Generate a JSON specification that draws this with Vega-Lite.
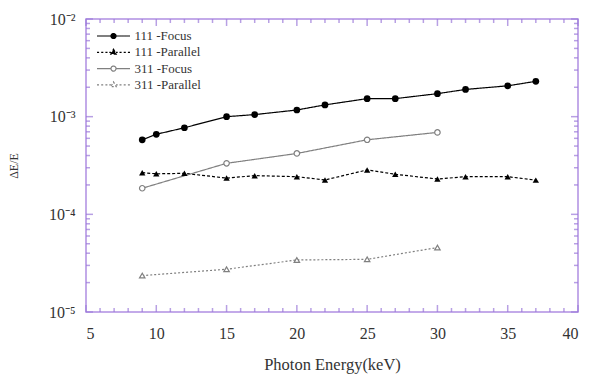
{
  "$schema": "https://vega.github.io/schema/vega-lite/v6.json",
  "width": 492,
  "height": 293,
  "autosize": {"type": "none"},
  "padding": {"left": 86, "top": 19, "right": 16, "bottom": 62},
  "background": "white",
  "datasets": {
    "series": [
      {"s": "111 -Focus", "x": 9, "y": 0.00058},
      {"s": "111 -Focus", "x": 10, "y": 0.00066},
      {"s": "111 -Focus", "x": 12, "y": 0.00077},
      {"s": "111 -Focus", "x": 15, "y": 0.00100},
      {"s": "111 -Focus", "x": 17, "y": 0.00105},
      {"s": "111 -Focus", "x": 20, "y": 0.00117},
      {"s": "111 -Focus", "x": 22, "y": 0.00132},
      {"s": "111 -Focus", "x": 25, "y": 0.00153},
      {"s": "111 -Focus", "x": 27, "y": 0.00153},
      {"s": "111 -Focus", "x": 30, "y": 0.00172},
      {"s": "111 -Focus", "x": 32, "y": 0.00190},
      {"s": "111 -Focus", "x": 35, "y": 0.00207},
      {"s": "111 -Focus", "x": 37, "y": 0.00230},
      {"s": "111 -Parallel", "x": 9, "y": 0.000267},
      {"s": "111 -Parallel", "x": 10, "y": 0.000260},
      {"s": "111 -Parallel", "x": 12, "y": 0.000263},
      {"s": "111 -Parallel", "x": 15, "y": 0.000235},
      {"s": "111 -Parallel", "x": 17, "y": 0.000249},
      {"s": "111 -Parallel", "x": 20, "y": 0.000243},
      {"s": "111 -Parallel", "x": 22, "y": 0.000225},
      {"s": "111 -Parallel", "x": 25, "y": 0.000285},
      {"s": "111 -Parallel", "x": 27, "y": 0.000257},
      {"s": "111 -Parallel", "x": 30, "y": 0.000230},
      {"s": "111 -Parallel", "x": 32, "y": 0.000243},
      {"s": "111 -Parallel", "x": 35, "y": 0.000243},
      {"s": "111 -Parallel", "x": 37, "y": 0.000224},
      {"s": "311 -Focus", "x": 9, "y": 0.000185},
      {"s": "311 -Focus", "x": 15, "y": 0.000333},
      {"s": "311 -Focus", "x": 20, "y": 0.000420},
      {"s": "311 -Focus", "x": 25, "y": 0.000580},
      {"s": "311 -Focus", "x": 30, "y": 0.000690},
      {"s": "311 -Parallel", "x": 9, "y": 0.0000236},
      {"s": "311 -Parallel", "x": 15, "y": 0.0000274},
      {"s": "311 -Parallel", "x": 20, "y": 0.0000341},
      {"s": "311 -Parallel", "x": 25, "y": 0.0000346},
      {"s": "311 -Parallel", "x": 30, "y": 0.0000457}
    ],
    "xticks": [
      {"v": 5, "k": "major"}, {"v": 6, "k": "minor"}, {"v": 7, "k": "minor"}, {"v": 8, "k": "minor"}, {"v": 9, "k": "minor"},
      {"v": 10, "k": "major"}, {"v": 11, "k": "minor"}, {"v": 12, "k": "minor"}, {"v": 13, "k": "minor"}, {"v": 14, "k": "minor"},
      {"v": 15, "k": "major"}, {"v": 16, "k": "minor"}, {"v": 17, "k": "minor"}, {"v": 18, "k": "minor"}, {"v": 19, "k": "minor"},
      {"v": 20, "k": "major"}, {"v": 21, "k": "minor"}, {"v": 22, "k": "minor"}, {"v": 23, "k": "minor"}, {"v": 24, "k": "minor"},
      {"v": 25, "k": "major"}, {"v": 26, "k": "minor"}, {"v": 27, "k": "minor"}, {"v": 28, "k": "minor"}, {"v": 29, "k": "minor"},
      {"v": 30, "k": "major"}, {"v": 31, "k": "minor"}, {"v": 32, "k": "minor"}, {"v": 33, "k": "minor"}, {"v": 34, "k": "minor"},
      {"v": 35, "k": "major"}, {"v": 36, "k": "minor"}, {"v": 37, "k": "minor"}, {"v": 38, "k": "minor"}, {"v": 39, "k": "minor"},
      {"v": 40, "k": "major"}
    ],
    "yticks": [
      {"v": 0.00001, "k": "major"}, {"v": 0.00002, "k": "minor"}, {"v": 0.00003, "k": "minor"}, {"v": 0.00004, "k": "minor"}, {"v": 0.00005, "k": "minor"},
      {"v": 0.00006, "k": "minor"}, {"v": 0.00007, "k": "minor"}, {"v": 0.00008, "k": "minor"}, {"v": 0.00009, "k": "minor"},
      {"v": 0.0001, "k": "major"}, {"v": 0.0002, "k": "minor"}, {"v": 0.0003, "k": "minor"}, {"v": 0.0004, "k": "minor"}, {"v": 0.0005, "k": "minor"},
      {"v": 0.0006, "k": "minor"}, {"v": 0.0007, "k": "minor"}, {"v": 0.0008, "k": "minor"}, {"v": 0.0009, "k": "minor"},
      {"v": 0.001, "k": "major"}, {"v": 0.002, "k": "minor"}, {"v": 0.003, "k": "minor"}, {"v": 0.004, "k": "minor"}, {"v": 0.005, "k": "minor"},
      {"v": 0.006, "k": "minor"}, {"v": 0.007, "k": "minor"}, {"v": 0.008, "k": "minor"}, {"v": 0.009, "k": "minor"},
      {"v": 0.01, "k": "major"}
    ]
  },
  "data": {"name": "series"},
  "resolve": {"axis": {"x": "independent", "y": "independent"}},
  "layer": [
    {
      "mark": {"type": "line", "strokeWidth": 1.2},
      "encoding": {
        "x": {"field": "x", "type": "quantitative", "scale": {"domain": [5, 40], "nice": false, "zero": false},
          "axis": {"orient": "bottom", "values": [5, 10, 15, 20, 25, 30, 35, 40], "ticks": false, "labelPadding": 13, "title": "Photon Energy(keV)", "titlePadding": 15}},
        "y": {"field": "y", "type": "quantitative", "scale": {"type": "log", "domain": [0.00001, 0.01], "nice": false},
          "axis": {"orient": "left", "values": [0.00001, 0.0001, 0.001, 0.01], "ticks": false, "labelPadding": 11, "title": "ΔE/E", "titlePadding": 28, "titleFontSize": 12,
            "labelExpr": "'10' + (datum.value > 0.005 ? '⁻²' : datum.value > 0.0005 ? '⁻³' : datum.value > 0.00005 ? '⁻⁴' : '⁻⁵')"}},
        "color": {"field": "s", "type": "nominal", "scale": {"domain": ["111 -Focus", "111 -Parallel", "311 -Focus", "311 -Parallel"], "range": ["#000000", "#000000", "#808080", "#808080"]},
          "legend": {"title": null, "orient": "none", "legendX": 20.5, "legendY": 10,
            "encode": {"symbols": {"update": {
              "opacity": {"value": 1},
              "shape": {"signal": "datum.value === '111 -Focus' || datum.value === '311 -Focus' ? 'M-2.75 0H-0.42M0.42 0H2.75M0.42 0A0.42 0.42 0 1 1 -0.42 0A0.42 0.42 0 1 1 0.42 0Z' : 'M-2.75 0H-2.4M-2.05 0H-1.7M-1.35 0H-1.0M-0.7 0H-0.42M0.42 0H0.7M1.0 0H1.35M1.7 0H2.05M2.4 0H2.75M0 -0.5L0.45 0.3L-0.45 0.3Z'"},
              "fill": {"signal": "indexof(datum.value, '311') === 0 ? '#ffffff' : '#000000'"},
              "stroke": {"signal": "indexof(datum.value, '311') === 0 ? '#808080' : '#000000'"},
              "strokeDash": {"value": []},
              "strokeWidth": {"value": 1.2}}}}}},
        "strokeDash": {"field": "s", "type": "nominal", "scale": {"domain": ["111 -Focus", "111 -Parallel", "311 -Focus", "311 -Parallel"], "range": [[1, 0], [3, 2], [1, 0], [2, 2]]}, "legend": null}
      }
    },
    {
      "transform": [{"filter": "datum.s === '111 -Focus'"}],
      "mark": {"type": "point", "shape": "circle", "size": 45, "filled": true, "color": "#000000", "opacity": 1},
      "encoding": {
        "x": {"field": "x", "type": "quantitative", "axis": null},
        "y": {"field": "y", "type": "quantitative", "axis": null}
      }
    },
    {
      "transform": [{"filter": "datum.s === '111 -Parallel'"}],
      "mark": {"type": "point", "shape": "triangle-up", "size": 40, "filled": true, "color": "#000000", "opacity": 1},
      "encoding": {
        "x": {"field": "x", "type": "quantitative", "axis": null},
        "y": {"field": "y", "type": "quantitative", "axis": null}
      }
    },
    {
      "transform": [{"filter": "datum.s === '311 -Focus'"}],
      "mark": {"type": "point", "shape": "circle", "size": 30, "filled": false, "fill": "#ffffff", "stroke": "#808080", "strokeWidth": 1.2, "opacity": 1},
      "encoding": {
        "x": {"field": "x", "type": "quantitative", "axis": null},
        "y": {"field": "y", "type": "quantitative", "axis": null}
      }
    },
    {
      "transform": [{"filter": "datum.s === '311 -Parallel'"}],
      "mark": {"type": "point", "shape": "triangle-up", "size": 30, "filled": false, "fill": "#ffffff", "stroke": "#808080", "strokeWidth": 1.2, "opacity": 1},
      "encoding": {
        "x": {"field": "x", "type": "quantitative", "axis": null},
        "y": {"field": "y", "type": "quantitative", "axis": null}
      }
    },
    {
      "data": {"name": "xticks"},
      "transform": [{"filter": "datum.k === 'major'"}],
      "mark": {"type": "tick", "orient": "vertical", "color": "#9a78d8", "thickness": 1.5, "size": 7, "yOffset": -3.5},
      "encoding": {
        "x": {"field": "v", "type": "quantitative", "axis": null},
        "y": {"datum": 0.00001, "type": "quantitative", "axis": null}
      }
    },
    {
      "data": {"name": "xticks"},
      "transform": [{"filter": "datum.k === 'minor'"}],
      "mark": {"type": "tick", "orient": "vertical", "color": "#9a78d8", "thickness": 1.5, "size": 4, "yOffset": -2},
      "encoding": {
        "x": {"field": "v", "type": "quantitative", "axis": null},
        "y": {"datum": 0.00001, "type": "quantitative", "axis": null}
      }
    },
    {
      "data": {"name": "xticks"},
      "transform": [{"filter": "datum.k === 'major'"}],
      "mark": {"type": "tick", "orient": "vertical", "color": "#9a78d8", "thickness": 1.5, "size": 7, "yOffset": 3.5},
      "encoding": {
        "x": {"field": "v", "type": "quantitative", "axis": null},
        "y": {"datum": 0.01, "type": "quantitative", "axis": null}
      }
    },
    {
      "data": {"name": "xticks"},
      "transform": [{"filter": "datum.k === 'minor'"}],
      "mark": {"type": "tick", "orient": "vertical", "color": "#9a78d8", "thickness": 1.5, "size": 4, "yOffset": 2},
      "encoding": {
        "x": {"field": "v", "type": "quantitative", "axis": null},
        "y": {"datum": 0.01, "type": "quantitative", "axis": null}
      }
    },
    {
      "data": {"name": "yticks"},
      "transform": [{"filter": "datum.k === 'major'"}],
      "mark": {"type": "tick", "orient": "horizontal", "color": "#9a78d8", "thickness": 1.5, "size": 7, "xOffset": 3.5},
      "encoding": {
        "y": {"field": "v", "type": "quantitative", "axis": null},
        "x": {"datum": 5, "type": "quantitative", "axis": null}
      }
    },
    {
      "data": {"name": "yticks"},
      "transform": [{"filter": "datum.k === 'minor'"}],
      "mark": {"type": "tick", "orient": "horizontal", "color": "#9a78d8", "thickness": 1.5, "size": 4, "xOffset": 2},
      "encoding": {
        "y": {"field": "v", "type": "quantitative", "axis": null},
        "x": {"datum": 5, "type": "quantitative", "axis": null}
      }
    },
    {
      "data": {"name": "yticks"},
      "transform": [{"filter": "datum.k === 'major'"}],
      "mark": {"type": "tick", "orient": "horizontal", "color": "#9a78d8", "thickness": 1.5, "size": 7, "xOffset": -3.5},
      "encoding": {
        "y": {"field": "v", "type": "quantitative", "axis": null},
        "x": {"datum": 40, "type": "quantitative", "axis": null}
      }
    },
    {
      "data": {"name": "yticks"},
      "transform": [{"filter": "datum.k === 'minor'"}],
      "mark": {"type": "tick", "orient": "horizontal", "color": "#9a78d8", "thickness": 1.5, "size": 4, "xOffset": -2},
      "encoding": {
        "y": {"field": "v", "type": "quantitative", "axis": null},
        "x": {"datum": 40, "type": "quantitative", "axis": null}
      }
    }
  ],
  "config": {
    "view": {"stroke": "#b08ee2", "strokeWidth": 1.5},
    "axis": {"domain": false, "grid": false, "tickColor": "#b08ee2", "tickWidth": 1.2,
      "labelFont": "Liberation Serif", "labelFontSize": 16, "labelColor": "#333333",
      "titleFont": "Liberation Serif", "titleFontSize": 16.5, "titleFontWeight": "normal", "titleColor": "#333333"},
    "legend": {"orient": "none", "legendX": 20.5, "legendY": 10, "padding": 0, "symbolSize": 144, "symbolStrokeWidth": 1.2, "symbolOpacity": 1,
      "labelOffset": 14, "labelFont": "Liberation Serif", "labelFontSize": 13, "labelColor": "#333333", "rowPadding": 2.3}
  }
}
